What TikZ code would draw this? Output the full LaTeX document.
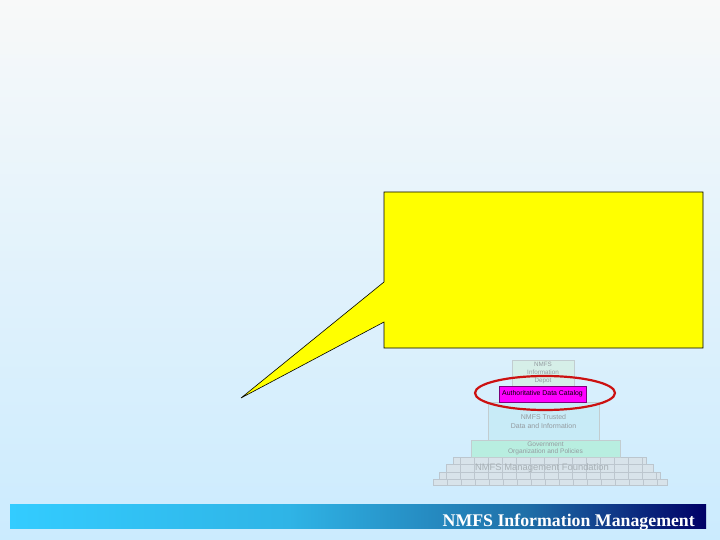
\documentclass[tikz,border=0pt]{standalone}
\usepackage{fontspec}
\setmainfont{Liberation Serif}
\newfontfamily\pyrfont{Liberation Sans}
\usetikzlibrary{shapes.geometric}
\definecolor{bgtop}{HTML}{F8F9F9}
\definecolor{bgbot}{HTML}{CBEBFE}
\definecolor{barA}{HTML}{33CCFF}
\definecolor{barB}{HTML}{2FB4E6}
\definecolor{barC}{HTML}{1F6FA8}
\definecolor{barD}{HTML}{000066}
\definecolor{calloutyellow}{HTML}{FFFF00}
\definecolor{depotfill}{HTML}{D6EFE8}
\definecolor{trustfill}{HTML}{C8EBF7}
\definecolor{govfill}{HTML}{B8EEE0}
\definecolor{brickfill}{HTML}{D8E3EA}
\definecolor{brickline}{HTML}{BCC6CE}
\definecolor{tierline}{HTML}{C2CDD0}
\definecolor{tiertext}{HTML}{949BA0}
\definecolor{ringred}{HTML}{CC1111}
\definecolor{catborder}{HTML}{7A007A}
\definecolor{catfill}{HTML}{FF00FF}
\pgfdeclarehorizontalshading{footbar}{100bp}{color(0bp)=(barA); color(25bp)=(barA); color(45bp)=(barB); color(62bp)=(barC); color(75bp)=(barD); color(100bp)=(barD)}
\tikzset{
  tier/.style={draw=tierline, line width=0.4pt, inner sep=0pt, align=center,
    text=tiertext, font=\pyrfont\fontsize{7}{8.5}\selectfont},
  catbox/.style={draw=catborder, fill=catfill, line width=0.5pt, inner sep=0pt,
    font=\pyrfont\fontsize{6.9}{7}\selectfont, text=black},
  ring/.style={draw=ringred, line width=2.2pt, ellipse, inner sep=0pt},
  brickrow/.style={fill=brickfill, draw=brickline, line width=0.4pt},
}
\begin{document}
\begin{tikzpicture}[x=1pt,y=-1pt]
\useasboundingbox (0,0) rectangle (720,540);
\shade[top color=bgtop, bottom color=bgbot] (0,0) rectangle (720,540);

% footer bar
\shade[shading=footbar] (10,504) rectangle (706,528);
\node[anchor=base east, text=white, inner sep=0pt,
  font=\bfseries\fontsize{17.8}{20}\selectfont] (foot) at (695,526) {NMFS Information Management};

% callout
\filldraw[fill=calloutyellow, draw=black, line width=0.6pt]
  (384,192) -- (703,192) -- (703,348) -- (384,348) -- (384,322)
  -- (241,398) -- (384,282) -- cycle;

% brick foundation
\foreach \l/\r/\t/\b/\o in {453/646/457/464/7, 446/653/464/472/0, 439/660/472/479/7, 433/667/479/485/0}{
  \path[brickrow] (\l,\t) rectangle (\r,\b);
  \begin{scope}
    \clip (\l,\t) rectangle (\r,\b);
    \foreach \k in {0,...,17}{
      \draw[brickline, line width=0.4pt] (\l+\o+14*\k,\t) -- (\l+\o+14*\k,\b);
    }
  \end{scope}
}
\node[text=tiertext!70!brickfill, font=\pyrfont\fontsize{9.4}{10}\selectfont, inner sep=0pt]
  (found) at (542,468) {NMFS Management Foundation};

% tiers
\node[tier, fill=govfill, minimum width=149, minimum height=17, font=\pyrfont\fontsize{6.6}{7.3}\selectfont] (gov) at (545.5,448.5)
  {Government\\Organization and Policies};
\node[tier, fill=trustfill, minimum width=111, minimum height=38, font=\pyrfont\fontsize{7}{9}\selectfont] (trust) at (543.5,421)
  {NMFS Trusted\\Data and Information};
\node[tier, fill=depotfill, minimum width=62, minimum height=26, font=\pyrfont\fontsize{6.3}{8}\selectfont] (depot) at (543,373)
  {NMFS\\Information\\Depot};
\node[catbox, minimum width=87, minimum height=16] (cat) at (542.5,394) {Authoritative Data Catalog};
\node[ring, minimum width=140, minimum height=34] (ring) at (545,393) {};
\end{tikzpicture}
\end{document}
